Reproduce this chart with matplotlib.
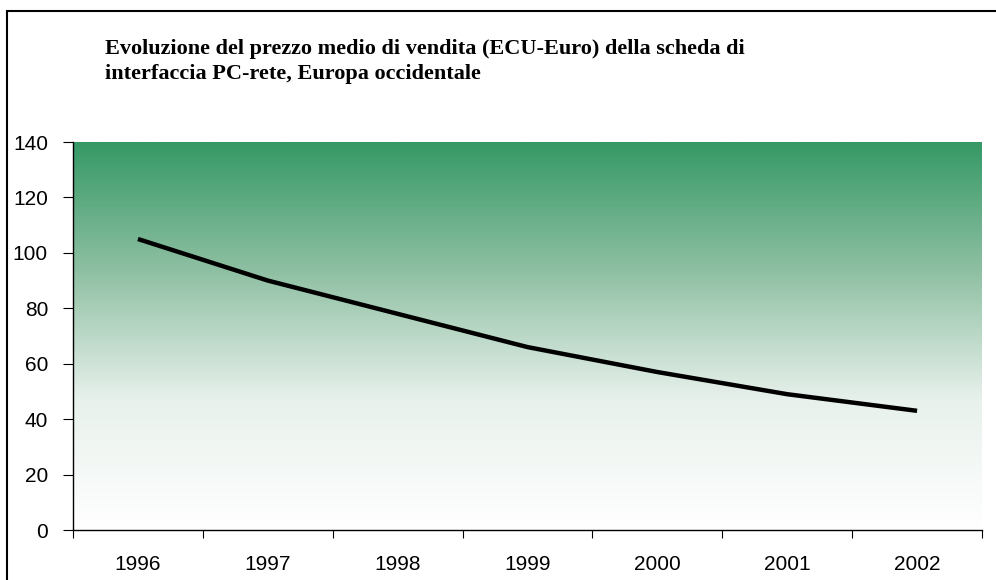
import numpy as np
import matplotlib
matplotlib.use('Agg')
import matplotlib.pyplot as plt
from matplotlib.patches import Rectangle
from matplotlib.colors import LinearSegmentedColormap

years = ['1996', '1997', '1998', '1999', '2000', '2001', '2002']
prices = [105, 90, 78, 66, 57, 49, 43]
yticks = [0, 20, 40, 60, 80, 100, 120, 140]
title_lines = ['Evoluzione del prezzo medio di vendita (ECU-Euro) della scheda di',
               'interfaccia PC-rete, Europa occidentale']

W, H = 996, 580
fig = plt.figure(figsize=(W / 100, H / 100), dpi=100)
ax = fig.add_axes([73 / W, 1 - 530 / H, (982 - 73) / W, (530 - 142) / H])

# green to white gradient background
cmap = LinearSegmentedColormap.from_list('gw', ['#ffffff', '#e8f1ec', '#8fc0a3', '#369966'])
grad = np.linspace(0, 1, 256).reshape(-1, 1)
ax.imshow(grad, aspect='auto', cmap=cmap, origin='lower',
          extent=[0, len(years), 0, 140], zorder=0, interpolation='bilinear')

x = np.arange(len(years)) + 0.5
ax.plot(x, prices, color='black', lw=3.2, solid_capstyle='butt', zorder=3)

ax.set_xlim(0, len(years))
ax.set_ylim(0, 140)
ax.set_xticks(np.arange(len(years) + 1))
ax.set_xticklabels([])
ax.set_xticks(x, minor=True)
ax.set_xticklabels(years, minor=True, fontsize=15, family='Liberation Sans')
ax.tick_params(axis='x', which='major', direction='out', length=6, width=0.8)
ax.tick_params(axis='x', which='minor', length=0, pad=18)
ax.set_yticks(yticks)
ax.set_yticklabels([str(v) for v in yticks], fontsize=15, family='Liberation Sans')
ax.tick_params(axis='y', direction='out', length=7, width=0.8, pad=11)
for s in ['top', 'right']:
    ax.spines[s].set_visible(False)
ax.spines['left'].set_linewidth(1.0)
ax.spines['bottom'].set_linewidth(1.0)

# title
for i, line in enumerate(title_lines):
    fig.text(105 / W, 1 - (54 + 25 * i) / H, line, fontsize=16, fontweight='bold',
             family='Liberation Serif', ha='left', va='baseline')

# outer frame (cut off at right and bottom)
fig.patches.append(Rectangle((7 / W, -0.1), 1.2, 1.1 - 11 / H, transform=fig.transFigure,
                             fill=False, ec='black', lw=1.5))

fig.savefig('out.png', dpi=100)
